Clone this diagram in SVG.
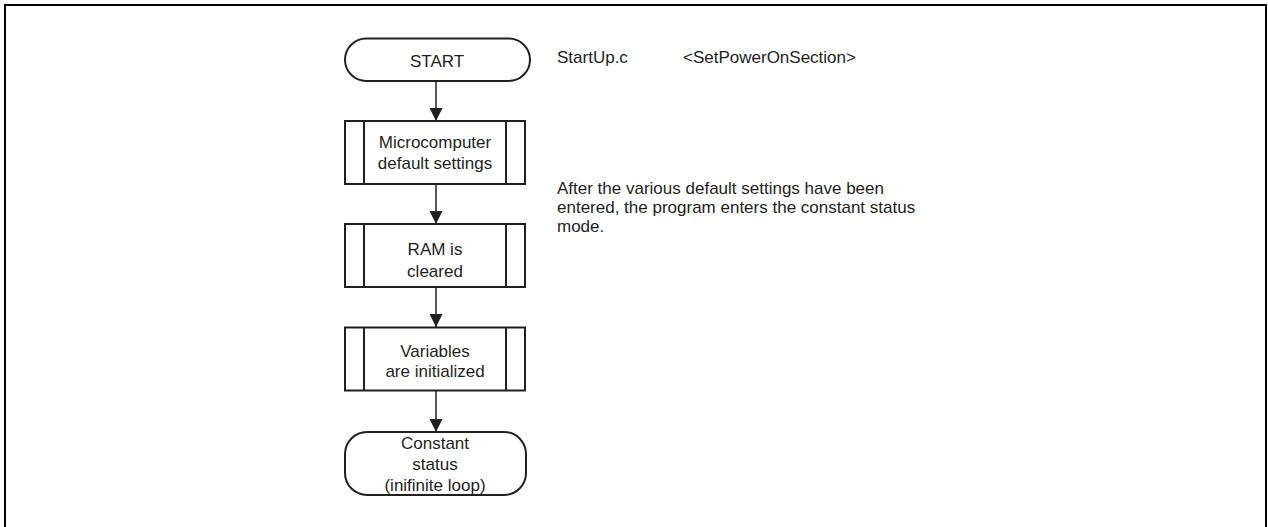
<svg xmlns="http://www.w3.org/2000/svg" width="1268" height="527" viewBox="0 0 1268 527">
<defs>
<style>
.t{font-family:"Liberation Sans",Arial,sans-serif;font-size:17px;fill:#231f20}
.c{text-anchor:middle}
.n{fill:#fff;stroke:#231f20;stroke-width:2}
.s{stroke:#231f20;stroke-width:2;fill:none}
.e{stroke:#231f20;stroke-width:1.5;fill:none}
</style>
<marker id="ah" markerWidth="13" markerHeight="13" viewBox="0 0 13 13" refX="13" refY="6.5" orient="auto" markerUnits="userSpaceOnUse">
<path d="M0,0 L13,6.5 L0,13 Z" fill="#231f20"/>
</marker>
</defs>
<rect x="0" y="0" width="1268" height="527" fill="#fff"/>
<rect x="5" y="5" width="1261" height="540" fill="none" stroke="#000" stroke-width="2"/>
<g id="connectors">
<line class="e" x1="436" y1="81" x2="436" y2="121" marker-end="url(#ah)"/>
<line class="e" x1="436" y1="184" x2="436" y2="224" marker-end="url(#ah)"/>
<line class="e" x1="436" y1="287" x2="436" y2="327" marker-end="url(#ah)"/>
<line class="e" x1="436" y1="391" x2="436" y2="432" marker-end="url(#ah)"/>
</g>
<g id="start">
<rect class="n" x="345" y="38.5" width="185" height="42.5" rx="21.25"/>
<text class="t c" x="437" y="67">START</text>
</g>
<g id="micro">
<rect class="n" x="345" y="121" width="180" height="63"/>
<line class="s" x1="364" y1="121" x2="364" y2="184"/>
<line class="s" x1="506" y1="121" x2="506" y2="184"/>
<text class="t c" x="435" y="148">Microcomputer</text>
<text class="t c" x="435" y="169">default settings</text>
</g>
<g id="ram">
<rect class="n" x="345" y="224" width="180" height="63"/>
<line class="s" x1="364" y1="224" x2="364" y2="287"/>
<line class="s" x1="506" y1="224" x2="506" y2="287"/>
<text class="t c" x="435" y="255">RAM is</text>
<text class="t c" x="435" y="276.5">cleared</text>
</g>
<g id="vars">
<rect class="n" x="345" y="327.5" width="180" height="63"/>
<line class="s" x1="364" y1="327.5" x2="364" y2="390.5"/>
<line class="s" x1="506" y1="327.5" x2="506" y2="390.5"/>
<text class="t c" x="435" y="356.5">Variables</text>
<text class="t c" x="435" y="377">are initialized</text>
</g>
<g id="constant">
<rect class="n" x="345" y="432" width="181" height="63" rx="22"/>
<text class="t c" x="435" y="449">Constant</text>
<text class="t c" x="435" y="470">status</text>
<text class="t c" x="435" y="491">(inifinite loop)</text>
</g>
<g id="notes">
<text class="t" x="557" y="63">StartUp.c</text>
<text class="t" x="683" y="63">&lt;SetPowerOnSection&gt;</text>
<text class="t" x="557" y="194">After the various default settings have been</text>
<text class="t" x="557" y="213">entered, the program enters the constant status</text>
<text class="t" x="557" y="232">mode.</text>
</g>
</svg>
